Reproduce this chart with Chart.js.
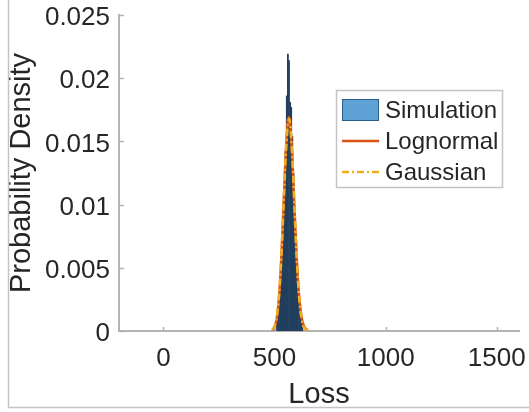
<!DOCTYPE html>
<html>
<head>
<meta charset="utf-8">
<script src="https://cdn.jsdelivr.net/npm/chart.js@4/dist/chart.umd.min.js"></script>
<style>
html,body{margin:0;padding:0;background:#fff;}
#wrap{position:relative;width:529px;height:412px;}
</style>
</head>
<body>
<div id="wrap"><canvas id="c" width="529" height="412"></canvas></div>
<script>
// ---- data ----
const seriesNames = ['Simulation', 'Lognormal', 'Gaussian'];
const xTitle = 'Loss';
const yTitle = 'Probability Density';

// histogram bin centres (Loss) and density
const histBins = [505,510,515,520,525,530,535,540,545,550,555,560,565,570,575,580,585,590,595,600,605,610,615,620,625];
const histDensity = [0.0003,0.0008,0.0015,0.0026,0.0039,0.0054,0.0071,0.0092,0.0115,0.0142,0.0186,0.0219,0.0214,0.0181,0.0177,0.0154,0.0125,0.0099,0.0077,0.0057,0.0040,0.0026,0.0015,0.0008,0.0003];

// fitted curves
const curveX = [490,500,510,520,530,540,550,560,565,570,580,590,600,610,620,630,640,650];
const lognormalY = [0.00005,0.00028,0.00100,0.00265,0.00565,0.00975,0.01395,0.01665,0.01690,0.01650,0.01365,0.00955,0.00570,0.00290,0.00128,0.00050,0.00017,0.00005];
const gaussianY  = [0.00011,0.00039,0.00114,0.00277,0.00565,0.00963,0.01375,0.01643,0.01680,0.01643,0.01375,0.00963,0.00565,0.00277,0.00114,0.00039,0.00011,0.00003];

// axes
const xRange = [-200, 1600];
const yRange = [0, 0.025];
const xTickValues = [0, 500, 1000, 1500];
const xTickLabels = ['0', '500', '1000', '1500'];
const yTickValues = [0, 0.005, 0.01, 0.015, 0.02, 0.025];
const yTickLabels = ['0', '0.005', '0.01', '0.015', '0.02', '0.025'];

// ---- styles ----
const FONT = "'Liberation Sans', Arial, Helvetica, sans-serif";
const TEXT = '#262626';
const AXIS = '#b4b4b4';
const HIST_FILL = '#213f5d';
const HIST_LEGEND_FILL = '#5fa3d6';
const HIST_LEGEND_EDGE = '#2a5d8a';
const LOGN = '#d95319';
const GAUS = '#edb120';
const GAUS_DASH = [7, 3, 2, 3];

const decor = {
  id: 'decor',
  afterDatasetsDraw(chart) {
    const ctx = chart.ctx, xs = chart.scales.x, ys = chart.scales.y, a = chart.chartArea;
    ctx.save();
    ctx.strokeStyle = AXIS;
    ctx.lineWidth = 1.5;
    ctx.beginPath();
    xTickValues.forEach(v => {
      const px = Math.round(xs.getPixelForValue(v)) + 0.5;
      ctx.moveTo(px, a.bottom); ctx.lineTo(px, a.bottom - 4);
    });
    yTickValues.forEach(v => {
      const py = Math.round(ys.getPixelForValue(v)) + 0.5;
      ctx.moveTo(a.left, py); ctx.lineTo(a.left + 5, py);
    });
    ctx.stroke();
    ctx.restore();
  },
  afterDraw(chart) {
    const ctx = chart.ctx;
    ctx.save();
    // outer frame (left and bottom edges of the figure)
    ctx.strokeStyle = '#c4c4c4';
    ctx.lineWidth = 1.5;
    ctx.beginPath();
    ctx.moveTo(8.5, 0); ctx.lineTo(8.5, 407.5); ctx.lineTo(529, 407.5);
    ctx.stroke();

    // legend
    const L = {x: 336, y: 90, w: 166, h: 97};
    ctx.fillStyle = '#ffffff';
    ctx.fillRect(L.x, L.y, L.w, L.h);
    ctx.strokeStyle = '#c4c4c4';
    ctx.lineWidth = 1.5;
    ctx.strokeRect(L.x + 0.5, L.y + 0.5, L.w, L.h);
    const rows = [110, 141, 172];
    const sx0 = 342, sx1 = 379;
    // Simulation patch
    ctx.fillStyle = HIST_LEGEND_FILL;
    ctx.fillRect(sx0, rows[0] - 11, sx1 - sx0, 22);
    ctx.strokeStyle = HIST_LEGEND_EDGE;
    ctx.lineWidth = 1;
    ctx.strokeRect(sx0 + 0.5, rows[0] - 11 + 0.5, sx1 - sx0 - 1, 21);
    // Lognormal line
    ctx.strokeStyle = LOGN; ctx.lineWidth = 2.5;
    ctx.beginPath(); ctx.moveTo(sx0, rows[1]); ctx.lineTo(sx1, rows[1]); ctx.stroke();
    // Gaussian dash-dot
    ctx.strokeStyle = GAUS; ctx.lineWidth = 2.5; ctx.setLineDash(GAUS_DASH);
    ctx.beginPath(); ctx.moveTo(sx0, rows[2]); ctx.lineTo(sx1, rows[2]); ctx.stroke();
    ctx.setLineDash([]);
    ctx.fillStyle = TEXT;
    ctx.font = '24px ' + FONT;
    ctx.textBaseline = 'middle';
    ctx.textAlign = 'left';
    seriesNames.forEach((n, i) => ctx.fillText(n, 385, rows[i] + 1));
    ctx.restore();
  }
};

new Chart(document.getElementById('c'), {
  type: 'bar',
  data: {
    datasets: [
      {
        type: 'bar',
        label: seriesNames[0],
        data: histBins.map((x, i) => ({x: x, y: histDensity[i]})),
        backgroundColor: HIST_FILL,
        borderWidth: 0,
        barPercentage: 1,
        categoryPercentage: 1,
        grouped: false,
        order: 3
      },
      {
        type: 'line',
        label: seriesNames[1],
        data: curveX.map((x, i) => ({x: x, y: lognormalY[i]})),
        borderColor: LOGN,
        borderWidth: 2.5,
        pointRadius: 0,
        tension: 0.3,
        fill: false,
        order: 2
      },
      {
        type: 'line',
        label: seriesNames[2],
        data: curveX.map((x, i) => ({x: x, y: gaussianY[i]})),
        borderColor: GAUS,
        borderWidth: 2.5,
        borderDash: GAUS_DASH,
        pointRadius: 0,
        tension: 0.3,
        fill: false,
        order: 1
      }
    ]
  },
  options: {
    responsive: false,
    animation: false,
    devicePixelRatio: 1,
    layout: {padding: {left: 0, right: 10, top: 15, bottom: 0}},
    plugins: {legend: {display: false}, tooltip: {enabled: false}},
    scales: {
      x: {
        type: 'linear',
        min: xRange[0], max: xRange[1],
        offset: false,
        grid: {display: false, drawTicks: false},
        border: {display: true, color: AXIS, width: 2},
        ticks: {
          includeBounds: false,
          maxRotation: 0,
          padding: 12,
          color: TEXT,
          font: {family: FONT, size: 26},
          callback: (v) => { const i = xTickValues.indexOf(v); return i >= 0 ? xTickLabels[i] : ''; }
        },
        afterBuildTicks: (s) => { s.ticks = xTickValues.map(v => ({value: v})); },
        afterFit: (s) => { s.height = 81; s.paddingLeft = 0; s.paddingRight = 0; },
        title: {display: true, text: xTitle, color: TEXT, font: {family: FONT, size: 29}, padding: {top: 0, bottom: 0}}
      },
      y: {
        type: 'linear',
        min: yRange[0], max: yRange[1],
        grid: {display: false, drawTicks: false},
        border: {display: true, color: AXIS, width: 2},
        ticks: {
          padding: 9,
          labelOffset: 3,
          color: TEXT,
          font: {family: FONT, size: 26},
          callback: (v) => { const i = yTickValues.findIndex(t => Math.abs(t - v) < 1e-9); return i >= 0 ? yTickLabels[i] : ''; }
        },
        afterBuildTicks: (s) => { s.ticks = yTickValues.map(v => ({value: v})); },
        afterFit: (s) => { s.width = 119; s.paddingTop = 0; s.paddingBottom = 0; },
        title: {display: true, text: yTitle, color: TEXT, font: {family: FONT, size: 29}, padding: {top: 5, bottom: 0}}
      }
    }
  },
  plugins: [decor]
});
</script>
</body>
</html>
